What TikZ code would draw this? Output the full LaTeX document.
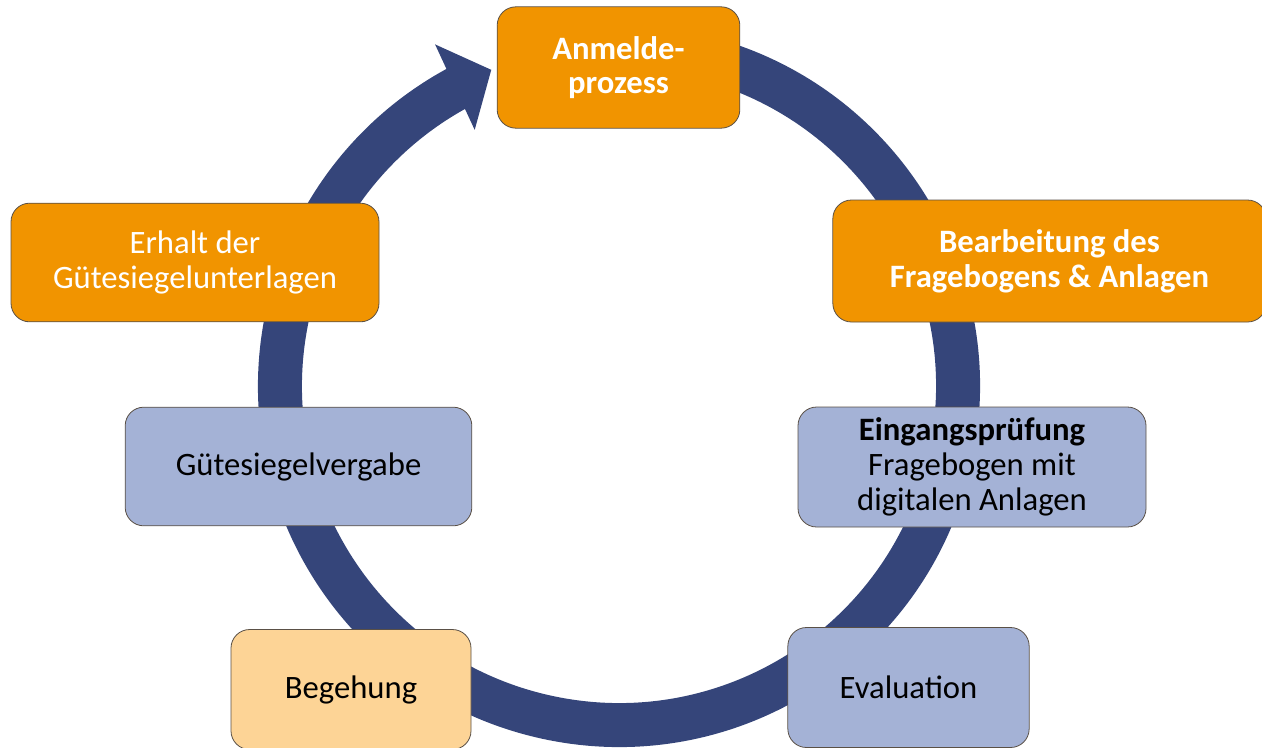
\documentclass[tikz,border=0pt]{standalone}
\usepackage{fontspec}
\setmainfont{Carlito}
\usetikzlibrary{positioning}

\definecolor{ringblue}{RGB}{53,69,122}
\definecolor{boxorange}{RGB}{241,148,0}
\definecolor{boxlight}{RGB}{253,212,150}
\definecolor{boxblue}{RGB}{164,178,214}
\definecolor{boxline}{RGB}{90,80,70}

\tikzset{every picture/.style={line width=0.75pt}}
\tikzset{
  stepbox/.style={draw=boxline, line width=0.6pt, rounded corners=14pt, align=center,
    inner sep=2pt, font=\fontsize{24.5}{26}\selectfont},
  hotbox/.style={stepbox, fill=boxorange, text=white},
  paleorange/.style={stepbox, fill=boxlight, text=black},
  palebox/.style={stepbox, fill=boxblue, text=black},
}

\begin{document}
\begin{tikzpicture}[x=0.75pt,y=0.75pt,yscale=-1,xscale=1]
\useasboundingbox (0,0) rectangle (1262,747);

%Ring with arrow head
\draw [color=ringblue, line width=33pt] ([shift={(619,386)}]-78:339) arc [start angle=-78, end angle=241.5, radius=339] ;
\fill [ringblue] ([shift={(619,386)}]-118.3:388) -- ([shift={(619,386)}]-112:341) -- ([shift={(619,386)}]-119.4:294) -- cycle ;

% Boxes
\node [hotbox, minimum width=182pt, minimum height=91pt] (anmeldung) at (618.5,67.5) {\bfseries Anmelde-\\\bfseries prozess};
\node [hotbox, minimum width=325pt, minimum height=91.5pt] (bearbeitung) at (1049.5,261) {\bfseries Bearbeitung des\\\bfseries Fragebogens \& Anlagen};
\node [hotbox, minimum width=276pt, minimum height=89pt] (erhalt) at (195,262.5) {Erhalt der\\Gütesiegelunterlagen};
\node [palebox, minimum width=260pt, minimum height=89pt] (vergabe) at (298.5,466.5) {Gütesiegelvergabe};
\node [palebox, minimum width=261pt, minimum height=90pt] (pruefung) at (972,467) {\fontsize{24.5}{25}\selectfont\bfseries Eingangsprüfung\\Fragebogen mit\\digitalen Anlagen};
\node [paleorange, minimum width=180pt, minimum height=90pt] (begehung) at (351,689.5) {Begehung};
\node [palebox, minimum width=181pt, minimum height=90pt] (evaluation) at (908.5,687.5) {Evaluation};

\end{tikzpicture}
\end{document}
